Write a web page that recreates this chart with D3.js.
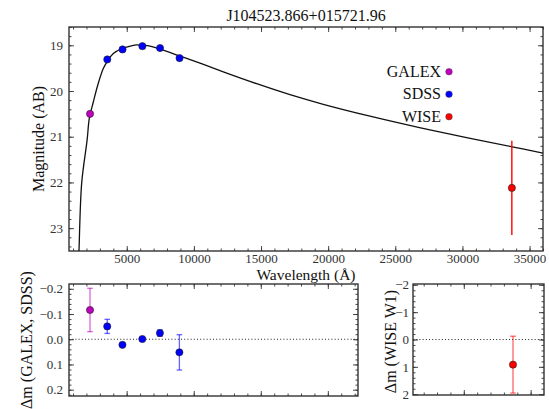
<!DOCTYPE html>
<html lang="en">
<head>
<meta charset="UTF-8">
<title>J104523.866+015721.96</title>
<script src="https://d3js.org/d3.v7.min.js"></script>
<style>
  body { margin: 0; background: white; }
  .tick text { font-size: 13px; fill: #333; }
  .tick line { stroke: #333; stroke-width: 0.9; }
  .domain { display: none; }
  .frame { fill: none; stroke: #333; stroke-width: 1.4; }
</style>
</head>
<body>
<svg id="chart"></svg>
<script>
// photometry (wavelength in Angstrom, AB magnitude)
const bands      = ["GALEX", "SDSS", "SDSS", "SDSS", "SDSS", "SDSS", "WISE"];
const wavelength = [2267, 3551, 4686, 6166, 7480, 8932, 33680];
const magnitude  = [20.50, 19.31, 19.09, 19.02, 19.06, 19.28, 22.12];
const magErr     = [0, 0, 0, 0, 0, 0, 1.03];

// model SED
const modelWave = [1400, 1445, 1646, 2050, 2212, 2510, 2882, 3254, 3552, 3999, 4647, 5243, 5742, 6114, 6732,
                   7425, 8914, 10456, 12191, 14679, 17158, 19638, 23116, 26800, 30489, 33713, 36000];
const modelMag  = [23.85, 23.49, 22.01, 21.07, 20.60, 20.24, 19.83, 19.51, 19.35, 19.18, 19.07, 19.02, 18.99, 19.00, 19.02,
                   19.08, 19.23, 19.39, 19.58, 19.84, 20.08, 20.29, 20.55, 20.80, 21.03, 21.22, 21.36];

// residuals
const residOpt    = [-0.116, -0.051, 0.022, -0.001, -0.0245, 0.052];
const residOptErr = [0.086, 0.028, 0.005, 0.005, 0.013, 0.07];
const residWise    = [0.92];
const residWiseErr = [1.04];

const legendNames = ["GALEX", "SDSS", "WISE"];
const colors = { GALEX: "#bf00bf", SDSS: "#0000ff", WISE: "#ff0000" };

const FONT = "'Liberation Serif', serif";
const W = 549, H = 409;
const svg = d3.select("#chart").attr("width", W).attr("height", H)
  .style("font-family", FONT);

const minus = s => s.replace("-", "\u2212");

function axes(x, y, o) {
  const [xa, xb] = x.range(), [ya, yb] = y.range();
  const g = svg.append("g");
  const put = (axis, tr) => g.append("g").attr("transform", tr).call(axis)
    .attr("font-family", null).style("font-family", FONT);
  // bottom / top
  put(d3.axisBottom(x).tickValues(o.xMinor).tickSize(-2.5).tickFormat(""), `translate(0,${ya})`);
  put(d3.axisTop(x).tickValues(o.xMinor).tickSize(-2.5).tickFormat(""), `translate(0,${yb})`);
  put(d3.axisBottom(x).tickValues(o.xMajor).tickSize(-5).tickPadding(3)
      .tickFormat(o.xFmt || (() => "")), `translate(0,${ya})`);
  put(d3.axisTop(x).tickValues(o.xMajor).tickSize(-5).tickFormat(""), `translate(0,${yb})`);
  // left / right
  put(d3.axisLeft(y).tickValues(o.yMinor).tickSize(-2.5).tickFormat(""), `translate(${xa},0)`);
  put(d3.axisRight(y).tickValues(o.yMinor).tickSize(-2.5).tickFormat(""), `translate(${xb},0)`);
  put(d3.axisLeft(y).tickValues(o.yMajor).tickSize(-5).tickPadding(o.yPad || 6).tickFormat(o.yFmt),
      `translate(${xa},0)`);
  put(d3.axisRight(y).tickValues(o.yMajor).tickSize(-5).tickFormat(""), `translate(${xb},0)`);
  g.append("rect").attr("class", "frame")
    .attr("x", xa).attr("y", yb).attr("width", xb - xa).attr("height", ya - yb);
  return g;
}

function clip(id, x, y) {
  svg.append("clipPath").attr("id", id).append("rect")
    .attr("x", x.range()[0]).attr("y", y.range()[1])
    .attr("width", x.range()[1] - x.range()[0]).attr("height", y.range()[0] - y.range()[1]);
}

function label(txt, x, y, rot, anchor) {
  return svg.append("text")
    .attr("transform", `translate(${x},${y})` + (rot ? " rotate(-90)" : ""))
    .attr("text-anchor", anchor || "middle").attr("font-size", 16).attr("fill", "#111")
    .style("font-family", FONT).text(txt);
}

// ---------- main SED panel ----------
const x = d3.scaleLinear().domain([700, 36000]).range([69, 543]);
const y = d3.scaleLinear().domain([23.5, 18.6]).range([251, 27]);
clip("clipMain", x, y);

axes(x, y, {
  xMajor: d3.range(5000, 36000, 5000), xMinor: d3.range(1000, 36001, 1000),
  yMajor: [19, 20, 21, 22, 23], yMinor: d3.range(18.6, 23.51, 0.2),
  xFmt: d3.format("d"), yFmt: d3.format("d")
});

const main = svg.append("g").attr("clip-path", "url(#clipMain)");
main.append("path")
  .datum(d3.zip(modelWave, modelMag))
  .attr("fill", "none").attr("stroke", "#111").attr("stroke-width", 1.3)
  .attr("d", d3.line().x(d => x(d[0])).y(d => y(d[1])).curve(d3.curveCatmullRom));

const pts = wavelength.map((w, i) => ({ w, m: magnitude[i], e: magErr[i], band: bands[i] }));
main.selectAll("line.err").data(pts.filter(d => d.e > 0)).join("line")
  .attr("x1", d => x(d.w)).attr("x2", d => x(d.w))
  .attr("y1", d => y(d.m - d.e)).attr("y2", d => y(d.m + d.e))
  .attr("stroke", d => colors[d.band]).attr("stroke-width", 1.4);
main.selectAll("circle").data(pts).join("circle")
  .attr("cx", d => x(d.w)).attr("cy", d => y(d.m)).attr("r", 3.6)
  .attr("fill", d => colors[d.band]).attr("stroke", "#222").attr("stroke-width", 0.6);

// legend
legendNames.forEach((name, i) => {
  const cy = 71.7 + i * 22.5;
  label(name, 441, cy + 5, false, "end");
  svg.append("circle").attr("cx", 449).attr("cy", cy).attr("r", 3.3)
    .attr("fill", colors[name]).attr("stroke", "#444").attr("stroke-width", 0.5);
});

label("J104523.866+015721.96", 306, 21);
label("Wavelength (\u00c5)", 306, 280).attr("font-size", 15.5);
label("Magnitude (AB)", 44, (27 + 251) / 2, true);

// ---------- residuals: GALEX + SDSS ----------
const xr = d3.scaleLinear().domain([700, 22250]).range([69, 358]);
const yr = d3.scaleLinear().domain([0.225, -0.219]).range([396, 284]);
clip("clipRes", xr, yr);
axes(xr, yr, {
  xMajor: d3.range(5000, 22250, 5000), xMinor: d3.range(1000, 22250, 1000),
  yMajor: [-0.2, -0.1, 0, 0.1, 0.2], yMinor: d3.range(-0.2, 0.221, 0.02),
  yFmt: v => minus(d3.format(".1f")(v))
});
const res = svg.append("g").attr("clip-path", "url(#clipRes)");
res.append("line").attr("x1", xr.range()[0]).attr("x2", xr.range()[1])
  .attr("y1", yr(0)).attr("y2", yr(0))
  .attr("stroke", "#222").attr("stroke-width", 1.1).attr("stroke-dasharray", "1,2.2");
const rpts = residOpt.map((r, i) => ({ w: wavelength[i], r, e: residOptErr[i], band: bands[i] }));
function errBars(gr, data, xs, ys, cap) {
  const eg = gr.selectAll("g.eb").data(data).join("g")
    .attr("stroke", d => colors[d.band]).attr("stroke-opacity", 0.6).attr("stroke-width", 1.3);
  eg.append("line").attr("x1", d => xs(d.w)).attr("x2", d => xs(d.w))
    .attr("y1", d => ys(d.r - d.e)).attr("y2", d => ys(d.r + d.e));
  [-1, 1].forEach(s => eg.append("line")
    .attr("x1", d => xs(d.w) - cap).attr("x2", d => xs(d.w) + cap)
    .attr("y1", d => ys(d.r + s * d.e)).attr("y2", d => ys(d.r + s * d.e)));
  gr.selectAll("circle").data(data).join("circle")
    .attr("cx", d => xs(d.w)).attr("cy", d => ys(d.r)).attr("r", 3.6)
    .attr("fill", d => colors[d.band]).attr("stroke", "#222").attr("stroke-width", 0.6);
}
errBars(res, rpts, xr, yr, 2.8);
label("\u0394m (GALEX, SDSS)", 32, (284 + 396) / 2, true);

// ---------- residuals: WISE ----------
const xw = d3.scaleLinear().domain([26200, 36000]).range([413, 544]);
const yw = d3.scaleLinear().domain([2.03, -2.03]).range([395, 284]);
clip("clipWise", xw, yw);
axes(xw, yw, {
  xMajor: [30000, 35000], xMinor: d3.range(27000, 36000, 1000),
  yMajor: [-2, -1, 0, 1, 2], yMinor: d3.range(-2, 2.01, 0.2), yPad: 4,
  yFmt: v => minus(d3.format("d")(v))
});
const wr = svg.append("g").attr("clip-path", "url(#clipWise)");
wr.append("line").attr("x1", xw.range()[0]).attr("x2", xw.range()[1])
  .attr("y1", yw(0)).attr("y2", yw(0))
  .attr("stroke", "#222").attr("stroke-width", 1.1).attr("stroke-dasharray", "1,2.2");
errBars(wr, residWise.map((r, i) => ({ w: wavelength[6], r, e: residWiseErr[i], band: "WISE" })), xw, yw, 2.8);
label("\u0394m (WISE W1)", 396, (284 + 395) / 2 + 2, true);
</script>
</body>
</html>
